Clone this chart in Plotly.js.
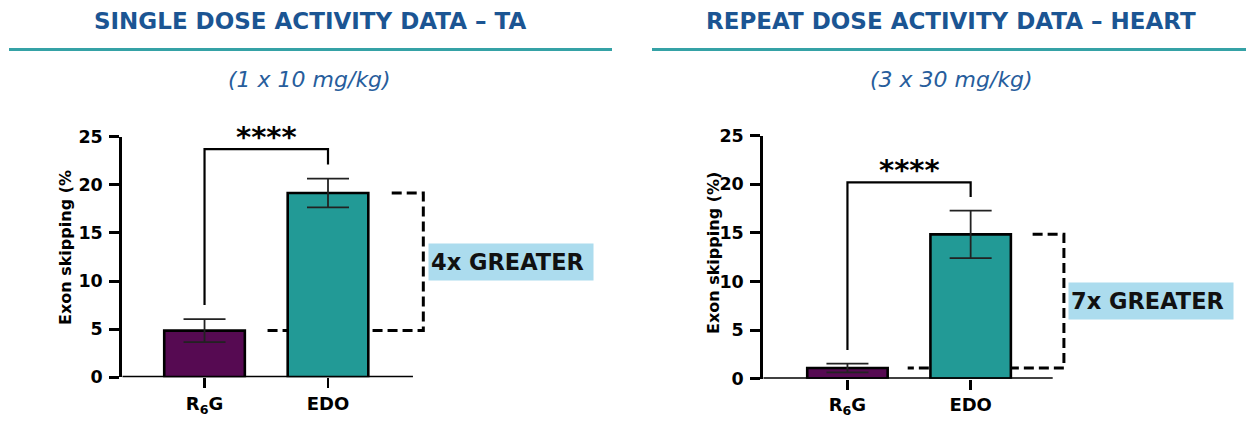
<!DOCTYPE html>
<html>
<head>
<meta charset="utf-8">
<script src="https://cdn.plot.ly/plotly-3.0.1.min.js"></script>
<style>html,body{margin:0;padding:0;background:#fff;}#chart{width:1246px;height:421px;}</style>
</head>
<body>
<div id="chart"></div>
<script>
// ---- data ----
const categories = ['R6G', 'EDO'];
const tickLabels = ['R<sub>6</sub>G', 'EDO'];
const taMeans = [4.85, 19.15];
const taErr = [1.2, 1.5];
const heartMeans = [1.1, 14.85];
const heartErr = [0.45, 2.45];
// significance bracket: [left leg bottom, top, right leg bottom]
const taBracket = [7.5, 23.7, 22.1];
const heartBracket = [2.95, 20.2, 18.7];
const foldLabels = ['4x GREATER', '7x GREATER'];
const panelTitles = ['SINGLE DOSE ACTIVITY DATA \u2013 TA', 'REPEAT DOSE ACTIVITY DATA \u2013 HEART'];
const panelSubtitles = ['(1 x 10 mg/kg)', '(3 x 30 mg/kg)'];
const yTitles = ['Exon skipping (%', 'Exon skipping (%)'];
const yTicks = [0, 5, 10, 15, 20, 25];

// ---- style ----
const FONT = '"DejaVu Sans", "Open Sans", sans-serif';
const barColors = ['#560a52', '#229a96'];
const W = 1246, H = 421;
const px = v => v / W;
const py = v => 1 - v / H;

function barTrace(means, err, xa, ya) {
  return {
    type: 'bar', x: categories, y: means, xaxis: xa, yaxis: ya,
    width: 0.653,
    marker: {color: barColors, line: {color: '#000', width: 2.6}},
    error_y: {type: 'data', array: err, visible: true, color: '#222', thickness: 1.8, width: 21},
    hoverinfo: 'skip', showlegend: false
  };
}

const data = [
  barTrace(taMeans, taErr, 'x', 'y'),
  barTrace(heartMeans, heartErr, 'x2', 'y2')
];

function xAxis(domain, range, anchor) {
  return {
    domain: domain, range: range, anchor: anchor, type: 'category',
    categoryarray: categories, tickmode: 'array', tickvals: categories, ticktext: tickLabels,
    showline: false, showgrid: false, zeroline: false,
    ticks: 'outside', ticklen: 10, tickwidth: 2.6, tickcolor: '#000',
    tickfont: {family: FONT, size: 18, color: '#000', weight: 'bold'},
    fixedrange: true
  };
}
function yAxis(domain, anchor) {
  return {
    domain: domain, range: [0, 25], anchor: anchor,
    tickmode: 'array', tickvals: yTicks,
    showline: true, linecolor: '#000', linewidth: 3,
    showgrid: false, zeroline: false,
    ticks: 'outside', ticklen: 10, tickwidth: 3, tickcolor: '#000',
    ticklabelstandoff: 3,
    tickfont: {family: FONT, size: 17.5, color: '#000', weight: 'bold'},
    fixedrange: true
  };
}

const leftRange = [-0.666, 3.203];
const rightRange = [-0.683, 3.235];

const shapes = [];
const annotations = [];

function panel(i, xa, ya, means, bracket, xr, axisEnd, dashX0, dashTopX0, dashX1, titleCx, ytCx, ytCy) {
  const xref = xa, yref = ya;
  // x axis baseline
  shapes.push({type: 'line', xref: xref, yref: yref, x0: xr[0], x1: axisEnd, y0: 0, y1: 0,
    line: {color: '#000', width: 3}, layer: 'above'});
  // significance bracket
  shapes.push({type: 'path', xref: xref, yref: yref,
    path: `M 0 ${bracket[0]} L 0 ${bracket[1]} L 1 ${bracket[1]} L 1 ${bracket[2]}`,
    line: {color: '#000', width: 2.2}, layer: 'above'});
  // dashed fold-change bracket (behind bars)
  shapes.push({type: 'path', xref: xref, yref: yref,
    path: `M ${dashTopX0} ${means[1]} L ${dashX1} ${means[1]} L ${dashX1} ${means[0]} L ${dashX0} ${means[0]}`,
    line: {color: '#000', width: 3, dash: '10px,5px'}, layer: 'below'});
  annotations.push({xref: xref, yref: yref, x: 0.5, y: bracket[1], yanchor: 'bottom', xanchor: 'center',
    text: '****', showarrow: false, yshift: -7,
    font: {family: FONT, size: 29, color: '#000', weight: 'bold'}});
  annotations.push({xref: xref, yref: yref, x: dashX1 + 0.035, y: (means[0] + means[1]) / 2,
    xanchor: 'left', yanchor: 'middle', text: foldLabels[i], showarrow: false,
    bgcolor: '#acdcee', width: 160, height: 32, borderpad: 2, align: 'left',
    font: {family: FONT, size: 22.5, color: '#111', weight: 'bold'}});
  // headings
  annotations.push({xref: 'paper', yref: 'paper', x: px(titleCx), y: py(20.5), xanchor: 'center', yanchor: 'middle',
    text: panelTitles[i], showarrow: false,
    font: {family: FONT, size: 23, color: '#1b5593', weight: 'bold'}});
  annotations.push({xref: 'paper', yref: 'paper', x: px(titleCx), y: py(80), xanchor: 'center', yanchor: 'middle',
    text: '<i>' + panelSubtitles[i] + '</i>', showarrow: false,
    font: {family: FONT, size: 22, color: '#275d9c'}});
  annotations.push({xref: 'paper', yref: 'paper', x: px(ytCx), y: py(ytCy), xanchor: 'center', yanchor: 'middle',
    text: yTitles[i], textangle: -90, showarrow: false,
    font: {family: FONT, size: 16, color: '#000', weight: 'bold'}});
}

panel(0, 'x', 'y', taMeans, taBracket, leftRange, 1.688, 0.49, 1.516, 1.772, 309.5, 66, 248);
panel(1, 'x2', 'y2', heartMeans, heartBracket, rightRange, 1.666, 0.489, 1.503, 1.757, 951, 713, 253);

// teal rules under headings
shapes.push({type: 'line', xref: 'paper', yref: 'paper', x0: px(9), x1: px(612), y0: py(49.5), y1: py(49.5),
  line: {color: '#35a2a6', width: 3}});
shapes.push({type: 'line', xref: 'paper', yref: 'paper', x0: px(652), x1: px(1246), y0: py(49.5), y1: py(49.5),
  line: {color: '#35a2a6', width: 3}});

const layout = {
  width: W, height: H,
  margin: {l: 0, r: 0, t: 0, b: 0},
  paper_bgcolor: '#fff', plot_bgcolor: 'rgba(0,0,0,0)',
  showlegend: false,
  xaxis: xAxis([px(122.3), px(600)], leftRange, 'y'),
  yaxis: yAxis([py(377.3), py(136.7)], 'x'),
  xaxis2: xAxis([px(763.3), 1], rightRange, 'y2'),
  yaxis2: yAxis([py(378.7), py(135.7)], 'x2'),
  shapes: shapes,
  annotations: annotations,
  bargap: 0
};

Plotly.newPlot('chart', data, layout, {displayModeBar: false, staticPlot: true});
</script>
</body>
</html>
